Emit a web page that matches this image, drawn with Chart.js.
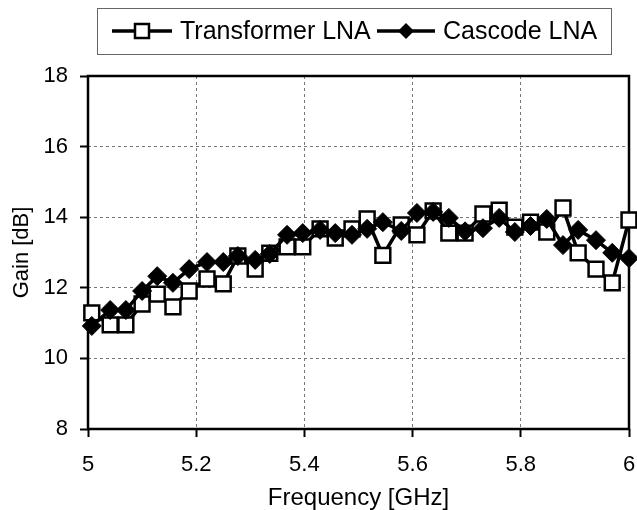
<!DOCTYPE html>
<html>
<head>
<meta charset="utf-8">
<script src="https://cdn.jsdelivr.net/npm/chart.js@4"></script>
<style>
  html, body { margin: 0; padding: 0; background: #fff; }
  canvas { display: block; }
</style>
</head>
<body>
<canvas id="gainChart" width="637" height="510"></canvas>
<script>
// values
const freqGHz = [5.007, 5.041, 5.070, 5.100, 5.128, 5.157, 5.187, 5.220, 5.250, 5.277,
                 5.309, 5.336, 5.368, 5.397, 5.429, 5.457, 5.488, 5.516, 5.545, 5.579,
                 5.608, 5.638, 5.667, 5.697, 5.730, 5.760, 5.789, 5.818, 5.848, 5.878,
                 5.906, 5.939, 5.969, 6.000];
const transformerGain = [11.29, 10.95, 10.95, 11.54, 11.82, 11.46, 11.91, 12.25, 12.11, 12.9,
                         12.53, 12.98, 13.16, 13.16, 13.67, 13.41, 13.67, 13.95, 12.92, 13.78,
                         13.5, 14.18, 13.55, 13.55, 14.09, 14.2, 13.72, 13.86, 13.58, 14.26,
                         12.99, 12.53, 12.14, 13.92];
const cascodeGain = [10.92, 11.37, 11.37, 11.91, 12.33, 12.14, 12.53, 12.73, 12.73, 12.9,
                     12.79, 12.96, 13.5, 13.55, 13.64, 13.55, 13.5, 13.67, 13.86, 13.61,
                     14.12, 14.15, 13.98, 13.6, 13.69, 13.98, 13.58, 13.75, 13.95, 13.21,
                     13.64, 13.35, 12.99, 12.84];
const seriesNames = ['Transformer LNA', 'Cascode LNA'];
const xTicks = [5, 5.2, 5.4, 5.6, 5.8, 6];
const yTicks = [8, 10, 12, 14, 16, 18];

const FONT = '"Liberation Sans", Arial, sans-serif';

function toPoints(ys) {
    return freqGHz.map((f, i) => ({ x: f, y: ys[i] }));
}

// black frame round the plot area
const frameBox = {
    id: 'frameBox',
    beforeDatasetsDraw(chart) {
        const { ctx, chartArea: a } = chart;
        ctx.save();
        ctx.setLineDash([]);
        ctx.strokeStyle = '#000';
        ctx.lineWidth = 2.5;
        ctx.strokeRect(a.left, a.top, a.right - a.left, a.bottom - a.top);
        ctx.restore();
    }
};

// excel-like legend: line with marker, then label
const lineLegend = {
    id: 'lineLegend',
    afterDraw(chart) {
        const ctx = chart.ctx;
        ctx.save();
        ctx.setLineDash([]);
        ctx.fillStyle = '#fff';
        ctx.fillRect(97, 8, 514, 46);
        ctx.strokeStyle = '#666';
        ctx.lineWidth = 1;
        ctx.strokeRect(97.5, 8.5, 514, 46);

        const cy = 31;
        ctx.font = '25px ' + FONT;
        ctx.textBaseline = 'middle';
        ctx.textAlign = 'left';

        // transformer
        ctx.strokeStyle = '#000';
        ctx.lineWidth = 3.5;
        ctx.beginPath();
        ctx.moveTo(112, cy);
        ctx.lineTo(172, cy);
        ctx.stroke();
        ctx.fillStyle = '#fff';
        ctx.fillRect(135, cy - 7, 14, 14);
        ctx.lineWidth = 2.5;
        ctx.strokeRect(135, cy - 7, 14, 14);
        ctx.fillStyle = '#000';
        ctx.fillText(seriesNames[0], 180, cy + 1);

        // cascode
        ctx.lineWidth = 3.5;
        ctx.beginPath();
        ctx.moveTo(377, cy);
        ctx.lineTo(435, cy);
        ctx.stroke();
        ctx.beginPath();
        ctx.moveTo(406, cy - 8);
        ctx.lineTo(414, cy);
        ctx.lineTo(406, cy + 8);
        ctx.lineTo(398, cy);
        ctx.closePath();
        ctx.fill();
        ctx.fillText(seriesNames[1], 443, cy + 1);
        ctx.restore();
    }
};

new Chart(document.getElementById('gainChart'), {
    type: 'line',
    data: {
        datasets: [{
            label: seriesNames[0],
            data: toPoints(transformerGain),
            borderColor: '#000',
            borderWidth: 3.5,
            pointStyle: 'rect',
            pointRadius: 10.5,
            pointBackgroundColor: '#fff',
            pointBorderColor: '#000',
            pointBorderWidth: 2.5,
            tension: 0,
            clip: false,
            order: 1
        }, {
            label: seriesNames[1],
            data: toPoints(cascodeGain),
            borderColor: '#000',
            borderWidth: 3.5,
            pointStyle: 'rectRot',
            pointRadius: 9.5,
            pointBackgroundColor: '#000',
            pointBorderColor: '#000',
            pointBorderWidth: 1,
            tension: 0,
            clip: false,
            order: 0
        }]
    },
    options: {
        responsive: false,
        animation: false,
        layout: { autoPadding: false, padding: { top: 76, right: 8, left: 0, bottom: 0 } },
        plugins: {
            legend: { display: false },
            tooltip: { enabled: false }
        },
        scales: {
            x: {
                type: 'linear',
                min: 5,
                max: 6,
                afterBuildTicks: (axis) => { axis.ticks = xTicks.map(v => ({ value: v })); },
                afterFit: (axis) => {
                    axis.height = 81;
                    axis.paddingLeft = 0;
                    axis.paddingRight = 0;
                },
                grid: {
                    color: '#777',
                    lineWidth: 1,
                    tickLength: 8,
                    tickColor: '#000',
                    tickWidth: 2,
                    tickBorderDash: []
                },
                border: { display: false, dash: [3, 3] },
                ticks: {
                    color: '#000',
                    padding: 15,
                    maxRotation: 0,
                    font: { family: FONT, size: 22 },
                    callback: (v) => String(Number(v.toFixed(1)))
                },
                title: {
                    display: true,
                    text: 'Frequency [GHz]',
                    color: '#000',
                    font: { family: FONT, size: 24, lineHeight: 1 },
                    padding: { top: 0, bottom: 0 }
                }
            },
            y: {
                min: 8,
                max: 18,
                afterBuildTicks: (axis) => { axis.ticks = yTicks.map(v => ({ value: v })); },
                afterFit: (axis) => { axis.width = 88; },
                grid: {
                    color: '#777',
                    lineWidth: 1,
                    tickLength: 8,
                    tickColor: '#000',
                    tickWidth: 2,
                    tickBorderDash: []
                },
                border: { display: false, dash: [3, 3] },
                ticks: {
                    color: '#000',
                    padding: 12,
                    font: { family: FONT, size: 22 }
                },
                title: {
                    display: true,
                    text: 'Gain [dB]',
                    color: '#000',
                    font: { family: FONT, size: 22 },
                    padding: { top: 9, bottom: 0 }
                }
            }
        }
    },
    plugins: [frameBox, lineLegend]
});
</script>
</body>
</html>
